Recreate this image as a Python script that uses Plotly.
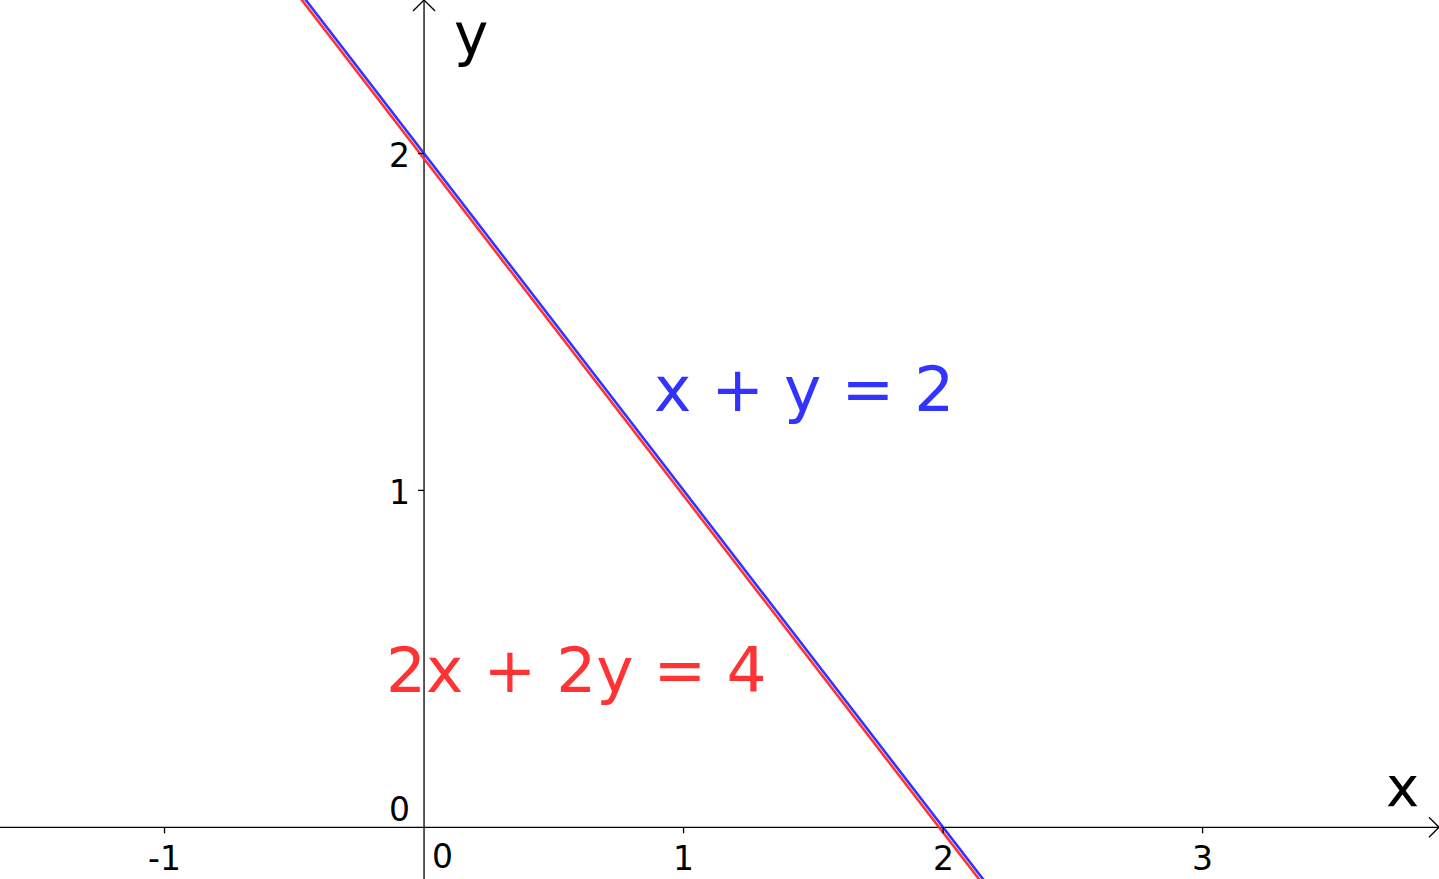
import plotly.graph_objects as go

# ---- data ----
line_x = [-1.0, 3.0]                      # x extent sampled for both lines
blue_y = [2 - x for x in line_x]          # x + y = 2
red_y = [(4 - 2 * x) / 2 for x in line_x] # 2x + 2y = 4
x_ticks = [-1, 1, 2, 3]
y_ticks = [1, 2]
x_tick_labels = ["-1", "1", "2", "3"]
y_tick_labels = ["1", "2"]

# ---- style ----
W, H = 1439, 879
XR = [-1.634, 3.911]
YR = [-0.1535, 2.4556]
BLUE = "rgb(51,51,255)"
RED = "rgb(255,51,51)"
FONT = "DejaVu Sans"
px_per_x = W / (XR[1] - XR[0])
red_shift = -4.0 / px_per_x  # small visual offset so both coincident lines show

fig = go.Figure()
fig.add_trace(go.Scatter(x=[v + red_shift for v in line_x], y=red_y, mode="lines",
                         line=dict(color=RED, width=2.6), hoverinfo="skip"))
fig.add_trace(go.Scatter(x=line_x, y=blue_y, mode="lines",
                         line=dict(color=BLUE, width=2.6), hoverinfo="skip"))

shapes = []
ax = dict(color="black", width=1.3)
# axes
shapes.append(dict(type="line", x0=XR[0], x1=XR[1], y0=0, y1=0, line=ax, layer="below"))
shapes.append(dict(type="line", x0=0, x1=0, y0=YR[0], y1=YR[1], line=ax, layer="below"))
# arrow heads (pixel sized, anchored at axis ends)
for dx, dy in [(-10, 10), (-10, -10)]:
    shapes.append(dict(type="line", xsizemode="pixel", ysizemode="pixel",
                       xanchor=XR[1], yanchor=0, x0=0, y0=0, x1=dx, y1=dy, line=ax))
for dx, dy in [(-11, -11), (11, -11)]:
    shapes.append(dict(type="line", xsizemode="pixel", ysizemode="pixel",
                       xanchor=0, yanchor=YR[1], x0=0, y0=0, x1=dx, y1=dy, line=ax))
# tick marks
for t in x_ticks:
    shapes.append(dict(type="line", xsizemode="scaled", ysizemode="pixel",
                       yanchor=0, x0=t, x1=t, y0=0, y1=-6, line=ax))
for t in y_ticks:
    shapes.append(dict(type="line", xsizemode="pixel", ysizemode="scaled",
                       xanchor=0, x0=0, x1=-6, y0=t, y1=t, line=ax))

ann = []
for t, lab in zip(x_ticks, x_tick_labels):
    ann.append(dict(x=t, y=0, text=lab, showarrow=False, xanchor="center", yanchor="top",
                    yshift=-10, font=dict(family=FONT, size=33, color="black")))
for t, lab in zip(y_ticks, y_tick_labels):
    ann.append(dict(x=0, y=t, text=lab, showarrow=False, xanchor="right", yanchor="middle",
                    xshift=-12, yshift=-2, font=dict(family=FONT, size=33, color="black")))
ann.append(dict(x=0, y=0, text="0", showarrow=False, xanchor="right", yanchor="bottom",
                xshift=-12, yshift=-4, font=dict(family=FONT, size=33, color="black")))
ann.append(dict(x=0, y=0, text="0", showarrow=False, xanchor="left", yanchor="top",
                xshift=6, yshift=-8, font=dict(family=FONT, size=33, color="black")))
# axis names
ann.append(dict(x=0, y=2.352, text="y", showarrow=False, xanchor="left", yanchor="middle",
                xshift=28, font=dict(family=FONT, size=58, color="black")))
ann.append(dict(x=XR[1], y=0, text="x", showarrow=False, xanchor="right", yanchor="bottom",
                xshift=-18, yshift=6, font=dict(family=FONT, size=56, color="black")))
# equation labels
ann.append(dict(x=0.88, y=1.30, text="x + y = 2", showarrow=False, xanchor="left",
                yanchor="middle", font=dict(family=FONT, size=63, color=BLUE)))
ann.append(dict(x=-0.155, y=0.465, text="2x + 2y = 4", showarrow=False, xanchor="left",
                yanchor="middle", font=dict(family=FONT, size=63, color=RED)))

fig.update_layout(
    width=W, height=H, margin=dict(l=0, r=0, t=0, b=0),
    paper_bgcolor="white", plot_bgcolor="white", showlegend=False,
    xaxis=dict(range=XR, visible=False, fixedrange=True),
    yaxis=dict(range=YR, visible=False, fixedrange=True),
    shapes=shapes, annotations=ann,
)

fig.write_html("out.html", config={"displayModeBar": False},
               post_script="document.body.style.margin='0';document.body.style.overflow='hidden';")
